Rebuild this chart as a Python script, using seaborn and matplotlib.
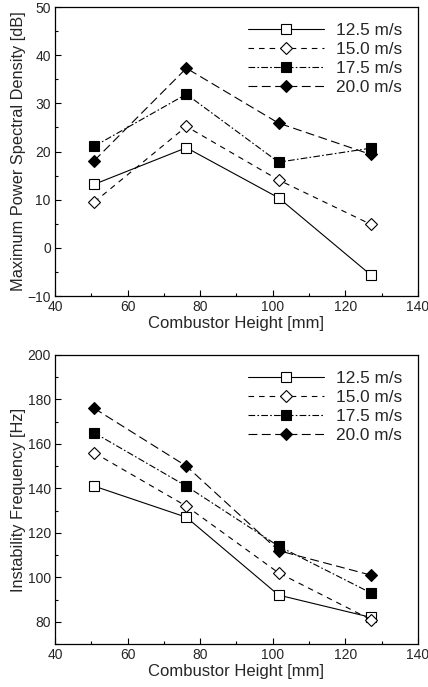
import matplotlib
matplotlib.use("Agg")
import matplotlib.pyplot as plt
from matplotlib.ticker import MultipleLocator
import seaborn as sns
import pandas as pd

heights = [50.8, 76.2, 101.6, 127.0]
speeds = ["12.5 m/s", "15.0 m/s", "17.5 m/s", "20.0 m/s"]
psd = {
    "12.5 m/s": [13.2, 20.8, 10.4, -5.6],
    "15.0 m/s": [9.5, 25.2, 14.1, 4.9],
    "17.5 m/s": [21.1, 31.9, 17.8, 20.7],
    "20.0 m/s": [18.1, 37.3, 25.9, 19.4],
}
freq = {
    "12.5 m/s": [141, 127, 92, 82],
    "15.0 m/s": [156, 132, 102, 81],
    "17.5 m/s": [165, 141, 114, 93],
    "20.0 m/s": [176, 150, 112, 101],
}

sns.set_theme(style="ticks")
plt.rcParams['font.family'] = ['Liberation Sans', 'DejaVu Sans']

styles = {
    "12.5 m/s": dict(ls="-", marker="s", mfc="white"),
    "15.0 m/s": dict(ls=(0, (5, 4.5)), marker="D", mfc="white"),
    "17.5 m/s": dict(ls=(0, (6, 2, 1.5, 2)), marker="s", mfc="black"),
    "20.0 m/s": dict(ls=(0, (8, 4)), marker="D", mfc="black"),
}

fig = plt.figure(figsize=(4.28, 6.87), dpi=100)
ax1 = fig.add_axes([0.1285, 0.569, 0.848, 0.4208])
ax2 = fig.add_axes([0.1285, 0.0626, 0.848, 0.4207])

def draw(ax, data, ylim, ymaj, ymin, ylabel):
    rows = []
    for s in speeds:
        for h, v in zip(heights, data[s]):
            rows.append({"h": h, "v": v, "s": s})
    df = pd.DataFrame(rows)
    for s in speeds:
        st = styles[s]
        ms = 6.5 if st["marker"] == "s" else 6
        sns.lineplot(data=df[df.s == s], x="h", y="v", ax=ax, color="black",
                     linewidth=0.8, linestyle=st["ls"], marker=st["marker"],
                     markerfacecolor=st["mfc"], markeredgecolor="black",
                     markeredgewidth=0.8, markersize=ms, label=s)
    ax.set_xlim(40, 140)
    ax.set_ylim(*ylim)
    ax.xaxis.set_major_locator(MultipleLocator(20))
    ax.xaxis.set_minor_locator(MultipleLocator(10))
    ax.yaxis.set_major_locator(MultipleLocator(ymaj))
    ax.yaxis.set_minor_locator(MultipleLocator(ymin))
    ax.tick_params(which="both", direction="in", top=False, right=False,
                   labelsize=10, width=0.8, color="black", pad=3)
    ax.tick_params(which="major", length=4)
    ax.tick_params(which="minor", length=2.5)
    for sp in ax.spines.values():
        sp.set_linewidth(0.9)
        sp.set_color("black")
    ax.set_xlabel("Combustor Height [mm]", fontsize=12, labelpad=1)
    ax.set_ylabel(ylabel, fontsize=11.8, labelpad=1)
    ax.legend(loc="upper right", frameon=False, fontsize=12.4, handlelength=4.4,
              handletextpad=0.7, labelspacing=0.22, borderaxespad=0.0,
              bbox_to_anchor=(0.975, 0.968))

draw(ax1, psd, (-10, 50), 10, 5, "Maximum Power Spectral Density [dB]")
draw(ax2, freq, (70, 200), 20, 10, "Instability Frequency [Hz]")

fig.savefig("out.png", dpi=100)
